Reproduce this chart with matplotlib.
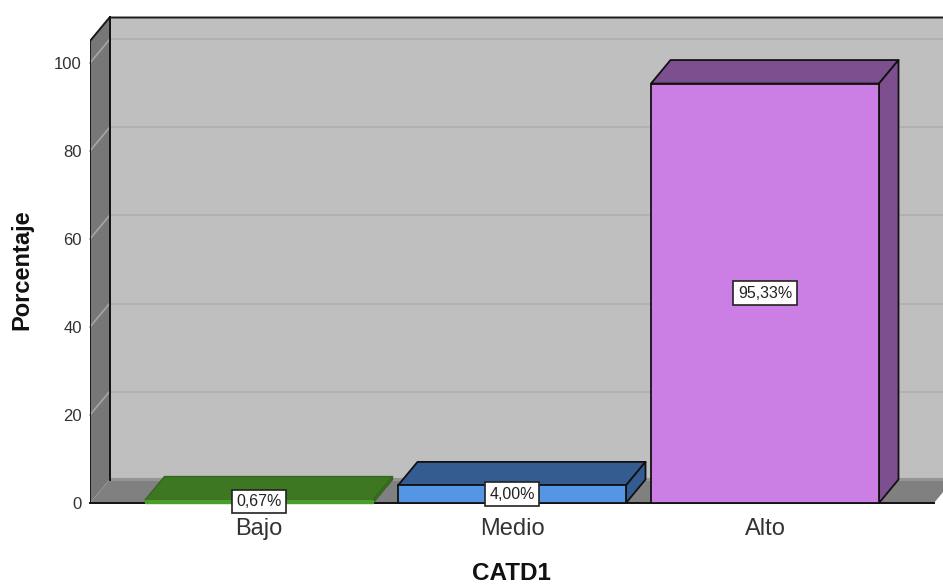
import matplotlib
matplotlib.use("Agg")
import matplotlib.pyplot as plt
from matplotlib.patches import Polygon

plt.rcParams['font.family'] = ['Liberation Sans', 'DejaVu Sans']

categories = ['Bajo', 'Medio', 'Alto']
percentages = [0.67, 4.00, 95.33]
value_labels = ['0,67%', '4,00%', '95,33%']
y_ticks = [0, 20, 40, 60, 80, 100]
front_colors = ['#4c9e2c', '#5595e6', '#cb7fe5']
dark_colors = ['#3e7722', '#345c91', '#7e4f8e']
edge_colors = ['#35661d', '#111111', '#111111']
front_edges = ['#4c9e2c', '#111111', '#111111']

W, H = 943, 584
bar_width = 228 / 253

# box depth in data units
dx = 19.5 / 253
dy = 23.5 / 4.4
wall_top = 105.0
floor_left = -0.668
floor_right = 2.668

fig = plt.figure(figsize=(W / 100, H / 100), dpi=100, facecolor='white')
ax = fig.add_axes([90 / W, 81 / H, 853 / W, 503 / H])
ax.set_xlim(floor_left, floor_left + 853 / 253)
ax.set_ylim(0, 503 / 4.4)
ax.patch.set_visible(False)
for s in ax.spines.values():
    s.set_visible(False)


def poly(pts, fc, ec='none', lw=0, z=1):
    ax.add_patch(Polygon(pts, closed=True, facecolor=fc, edgecolor=ec, linewidth=lw,
                         zorder=z, clip_on=False, joinstyle='round'))


x_far = floor_left + 853 / 253 + 0.2

# back wall, side wall, floor
poly([(floor_left + dx, dy), (x_far, dy), (x_far, wall_top + dy), (floor_left + dx, wall_top + dy)], '#bfbfbf', z=1)
poly([(floor_left, 0), (floor_left + dx, dy), (floor_left + dx, wall_top + dy), (floor_left, wall_top)], '#777777', z=1)
poly([(floor_left, 0), (floor_right, 0), (floor_right + dx, dy), (x_far, dy), (floor_left + dx, dy)], '#808080', z=1)
ax.plot([floor_left + dx, x_far], [dy + 0.2, dy + 0.2], color='#959595', lw=2.2, zorder=2, clip_on=True)

for t in y_ticks[1:]:
    ax.plot([floor_left + dx, x_far], [t + dy, t + dy], color='#b0b0b0', lw=1.3, zorder=2, clip_on=True)
    ax.plot([floor_left, floor_left + dx], [t, t + dy], color='#a6a6a6', lw=1.2, zorder=2, clip_on=False)

# wall outlines
ax.plot([floor_left, floor_left, floor_left + dx, x_far], [0, wall_top, wall_top + dy, wall_top + dy],
        color='#1a1a1a', lw=1.4, zorder=3, clip_on=True)
ax.plot([floor_left + dx, floor_left + dx], [dy, wall_top + dy], color='#111111', lw=1.4, zorder=3)
ax.plot([floor_left, floor_right], [0, 0], color='#111111', lw=1.4, zorder=3, clip_on=False)

# bars: top and side faces follow the value of each bar
for i, v in enumerate(percentages):
    x0 = i - bar_width / 2
    x1 = i + bar_width / 2
    lw = 1.0 if i == 0 else 1.3
    poly([(x0, v), (x1, v), (x1 + dx, v + dy), (x0 + dx, v + dy)], dark_colors[i], edge_colors[i], lw, 4)
    poly([(x1, 0), (x1 + dx, dy), (x1 + dx, v + dy), (x1, v)], dark_colors[i], edge_colors[i], lw, 4)
    ax.bar(i, v, width=bar_width, color=front_colors[i], edgecolor=front_edges[i], linewidth=lw, zorder=5, clip_on=False)
    ax.text(i, v / 2, value_labels[i], ha='center', va='center', fontsize=11.5, color='#222222', zorder=7,
            bbox=dict(boxstyle='square,pad=0.28', facecolor='white', edgecolor='#222222', linewidth=1.2))

ax.set_xticks(range(len(categories)))
ax.set_xticklabels(categories, fontsize=17, color='#333333')
ax.set_yticks(y_ticks)
ax.set_yticklabels([str(t) for t in y_ticks], fontsize=12, color='#333333')
ax.tick_params(axis='x', length=0, pad=11)
ax.tick_params(axis='y', length=0, pad=6)

fig.text(511 / W, 1 - 573 / H, 'CATD1', ha='center', va='center', fontsize=17.5, fontweight='bold', color='#111111')
fig.text(22 / W, 1 - 270 / H, 'Porcentaje', ha='center', va='center', rotation=90, fontsize=17,
         fontweight='bold', color='#111111')

fig.savefig('out.png', dpi=100, facecolor='white')
